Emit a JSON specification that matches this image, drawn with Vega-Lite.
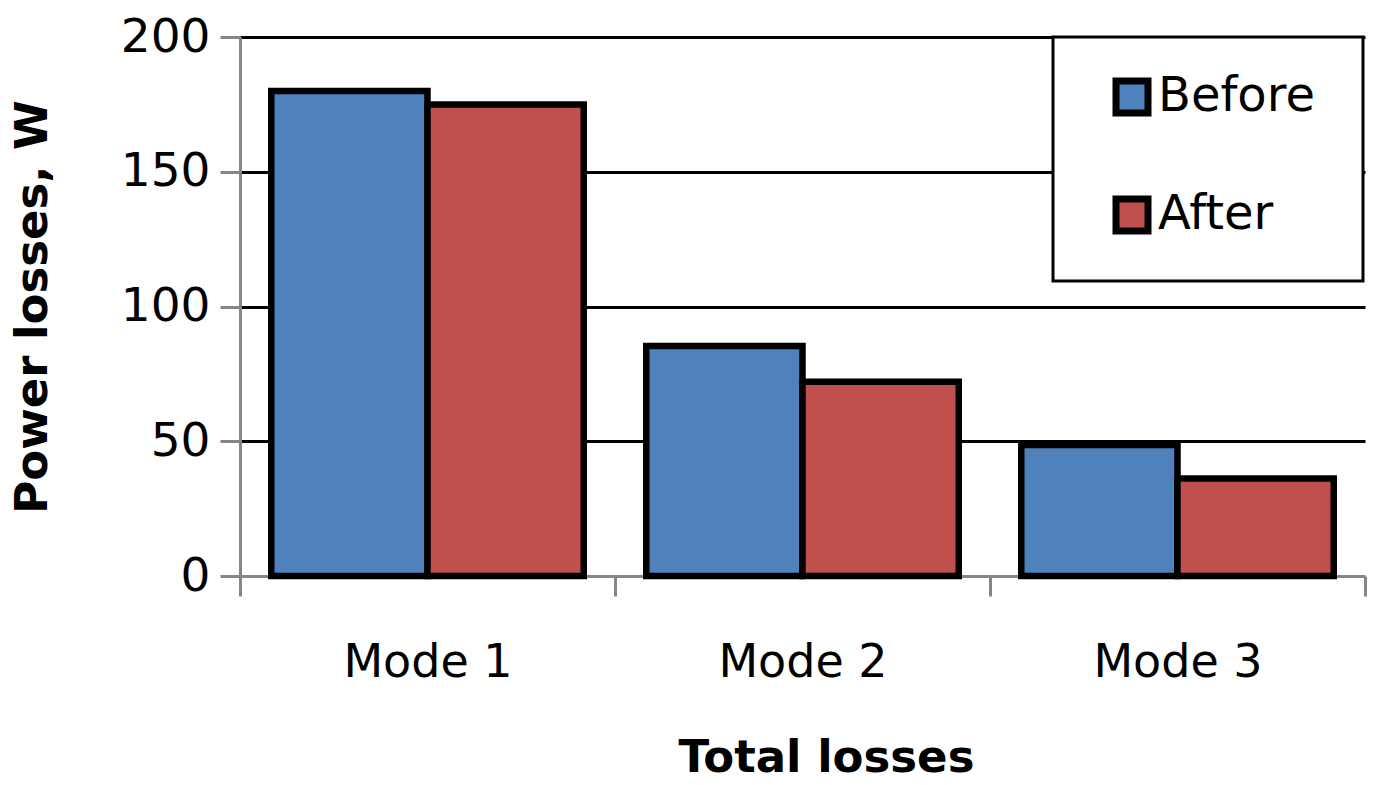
{
  "$schema": "https://vega.github.io/schema/vega-lite/v6.json",
  "width": 1125,
  "height": 539,
  "autosize": {"type": "none"},
  "padding": {"left": 240, "top": 37, "right": 21, "bottom": 209},
  "background": "white",
  "data": {
    "values": [
      {"mode": "Mode 1", "period": "Before", "losses": 180},
      {"mode": "Mode 1", "period": "After", "losses": 175},
      {"mode": "Mode 2", "period": "Before", "losses": 85.3},
      {"mode": "Mode 2", "period": "After", "losses": 72.1},
      {"mode": "Mode 3", "period": "Before", "losses": 48.6},
      {"mode": "Mode 3", "period": "After", "losses": 36.2}
    ]
  },
  "mark": {"type": "bar", "stroke": "black", "strokeWidth": 6.5, "strokeJoin": "miter"},
  "encoding": {
    "x": {
      "field": "mode",
      "type": "nominal",
      "sort": ["Mode 1", "Mode 2", "Mode 3"],
      "scale": {"paddingInner": 0, "paddingOuter": 0},
      "title": "Total losses",
      "axis": {
        "labelAngle": 0,
        "domainColor": "#868686",
        "domainWidth": 3,
        "tickBand": "extent",
        "tickColor": "#868686",
        "tickWidth": 3,
        "tickSize": 20,
        "labelFont": "DejaVu Sans",
        "labelFontSize": 46,
        "labelColor": "black",
        "labelPadding": 44,
        "titleFont": "DejaVu Sans",
        "titleFontSize": 45,
        "titleFontWeight": "bold",
        "titleColor": "black",
        "titlePadding": 50,
        "titleX": 586
      }
    },
    "xOffset": {
      "field": "period",
      "type": "nominal",
      "sort": ["Before", "After"],
      "scale": {"paddingInner": 0, "paddingOuter": 0.2}
    },
    "y": {
      "field": "losses",
      "type": "quantitative",
      "scale": {"domain": [0, 200], "nice": false},
      "title": "Power losses, W",
      "axis": {
        "values": [0, 50, 100, 150, 200],
        "domainColor": "#868686",
        "domainWidth": 3,
        "tickColor": "#868686",
        "tickWidth": 3,
        "tickSize": 20,
        "grid": true,
        "gridColor": {"condition": {"test": "datum.value === 0", "value": "transparent"}, "value": "black"},
        "gridWidth": 3,
        "labelFont": "DejaVu Sans",
        "labelFontSize": 47,
        "labelColor": "black",
        "labelPadding": 10,
        "titleFont": "DejaVu Sans",
        "titleFontSize": 45,
        "titleFontWeight": "bold",
        "titleColor": "black",
        "titlePadding": 65
      }
    },
    "color": {
      "field": "period",
      "type": "nominal",
      "sort": ["Before", "After"],
      "scale": {"domain": ["Before", "After"], "range": ["#4F81BD", "#C0504D"]},
      "legend": {
        "orient": "none",
        "legendX": 813,
        "legendY": 0,
        "title": " ",
        "titleOrient": "right",
        "titleFontSize": 10,
        "titlePadding": 12,
        "fillColor": "white",
        "strokeColor": "black",
        "padding": 36,
        "symbolType": "square",
        "symbolSize": 1024,
        "symbolStrokeWidth": 7,
        "symbolStrokeColor": "black",
        "symbolOpacity": 1,
        "symbolOffset": 19,
        "labelOffset": 2,
        "labelFont": "DejaVu Sans",
        "labelFontSize": 48,
        "labelColor": "black",
        "rowPadding": 58,
        "encode": {"legend": {"update": {"strokeWidth": {"value": 3}}}}
      }
    }
  },
  "config": {"view": {"stroke": null}}
}
